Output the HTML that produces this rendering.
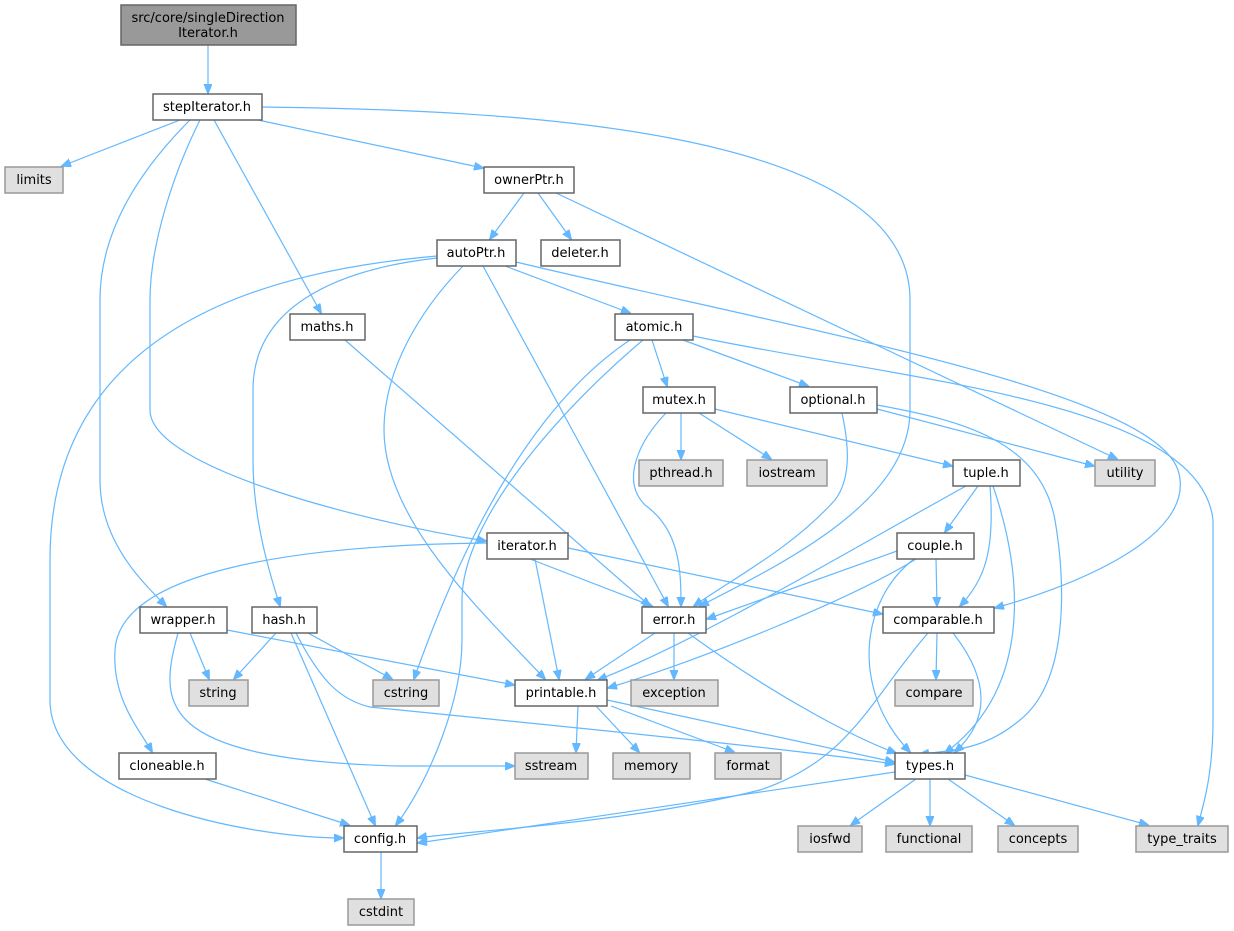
<!DOCTYPE html>
<html><head><meta charset="utf-8"><style>
html,body{margin:0;padding:0;background:#fff;}
svg{display:block;}
text{font-family:"DejaVu Sans","Liberation Sans",sans-serif;font-size:13px;fill:#000;text-anchor:middle;}
.e{fill:none;stroke:#63b8ff;stroke-width:1.2;marker-end:url(#a);}
.n{fill:#fff;stroke:#666;stroke-width:1.5;}
.g{fill:#e0e0e0;stroke:#999;stroke-width:1.5;}
</style></head><body>
<svg width="1234" height="931" viewBox="0 0 1234 931" xmlns="http://www.w3.org/2000/svg">
<defs><marker id="a" markerWidth="10" markerHeight="10" refX="9" refY="4" orient="auto" markerUnits="userSpaceOnUse"><path d="M0,0 L10,4 L0,8 Z" fill="#63b8ff" stroke="#63b8ff"/></marker></defs>
<g>
<path class="e" d="M208,45 L208,93"/>
<path class="e" d="M180,120 L62,166"/>
<path class="e" d="M258,120 L483,168"/>
<path class="e" d="M214,120 L321,313"/>
<path class="e" d="M190,120 C130,180 100,240 100,300 L100,480 C100,540 140,580 166,606"/>
<path class="e" d="M200,120 C170,180 150,250 150,300 L150,410 C150,470 380,525 486,541"/>
<path class="e" d="M262,107 C500,110 910,125 910,300 L910,410 C910,500 790,560 700,606"/>
<path class="e" d="M524,193 L490,239"/>
<path class="e" d="M538,193 L571,239"/>
<path class="e" d="M556,193 L1117,459"/>
<path class="e" d="M505,266 L630,313"/>
<path class="e" d="M437,256 C280,270 50,320 50,560 L50,700 C50,800 250,838 343,838"/>
<path class="e" d="M437,258 C330,270 253,310 253,390 L253,460 C253,520 270,575 280,606"/>
<path class="e" d="M463,266 C420,310 384,370 384,430 C384,520 480,610 545,679"/>
<path class="e" d="M483,266 L668,606"/>
<path class="e" d="M516,262 C800,330 1150,390 1178,470 C1200,540 1060,590 995,608"/>
<path class="e" d="M652,340 L667,386"/>
<path class="e" d="M683,340 L808,386"/>
<path class="e" d="M693,336 C900,380 1200,400 1213,520 L1213,720 C1213,770 1205,800 1198,825"/>
<path class="e" d="M630,340 C540,400 470,520 414,679"/>
<path class="e" d="M643,340 C560,410 462,520 462,600 L462,640 C462,700 430,780 396,825"/>
<path class="e" d="M681,413 L681,459"/>
<path class="e" d="M699,413 L771,459"/>
<path class="e" d="M715,409 L952,466"/>
<path class="e" d="M666,413 C640,440 620,480 645,505 C680,530 681,570 681,606"/>
<path class="e" d="M842,413 C850,450 850,480 835,500 C790,550 730,580 694,606"/>
<path class="e" d="M877,409 L1094,466"/>
<path class="e" d="M877,405 C960,420 1040,440 1055,520 C1065,580 1070,680 1020,720 C990,745 965,750 920,754"/>
<path class="e" d="M978,486 L945,532"/>
<path class="e" d="M966,486 C850,550 700,640 598,680"/>
<path class="e" d="M990,486 C995,550 985,580 960,606"/>
<path class="e" d="M993,486 C1025,580 1030,690 945,753"/>
<path class="e" d="M897,551 L707,619"/>
<path class="e" d="M916,559 C850,600 700,660 608,688"/>
<path class="e" d="M936,559 L937,606"/>
<path class="e" d="M914,559 C860,600 850,690 910,752"/>
<path class="e" d="M487,543 C300,545 120,570 115,650 C112,700 140,730 152,752"/>
<path class="e" d="M530,559 L652,606"/>
<path class="e" d="M535,559 L559,679"/>
<path class="e" d="M568,548 L882,614"/>
<path class="e" d="M345,340 L650,606"/>
<path class="e" d="M190,633 L209,679"/>
<path class="e" d="M227,630 L514,685"/>
<path class="e" d="M178,633 C160,700 150,760 400,766 L514,766"/>
<path class="e" d="M276,633 L234,679"/>
<path class="e" d="M308,633 L392,679"/>
<path class="e" d="M296,633 C320,680 340,700 370,707 C600,730 800,750 894,764"/>
<path class="e" d="M291,633 L375,825"/>
<path class="e" d="M674,633 L674,679"/>
<path class="e" d="M655,633 L586,679"/>
<path class="e" d="M688,633 C780,700 860,740 896,753"/>
<path class="e" d="M937,633 L936,679"/>
<path class="e" d="M953,633 C990,680 990,720 955,752"/>
<path class="e" d="M928,633 C870,700 850,760 760,790 C620,825 450,832 418,838"/>
<path class="e" d="M578,706 L576,752"/>
<path class="e" d="M596,706 L639,752"/>
<path class="e" d="M611,706 L734,752"/>
<path class="e" d="M607,700 L894,762"/>
<path class="e" d="M916,779 L851,825"/>
<path class="e" d="M930,779 L930,825"/>
<path class="e" d="M948,779 L1014,825"/>
<path class="e" d="M965,775 L1148,825"/>
<path class="e" d="M895,772 L418,843"/>
<path class="e" d="M205,779 L349,825"/>
<path class="e" d="M381,852 L381,898"/>
</g>
<g>
<rect x="121" y="5" width="175" height="40" fill="#999" stroke="#666" stroke-width="1.5"/>
<text x="208" y="22">src/core/singleDirection</text><text x="208" y="37">Iterator.h</text>
<rect class="n" x="153" y="94" width="109" height="26"/><text x="207" y="111">stepIterator.h</text>
<rect class="g" x="5" y="167" width="58" height="26"/><text x="34" y="184">limits</text>
<rect class="n" x="484" y="167" width="90" height="26"/><text x="529" y="184">ownerPtr.h</text>
<rect class="n" x="437" y="240" width="79" height="26"/><text x="476" y="257">autoPtr.h</text>
<rect class="n" x="541" y="240" width="79" height="26"/><text x="580" y="257">deleter.h</text>
<rect class="n" x="290" y="314" width="75" height="26"/><text x="327" y="331">maths.h</text>
<rect class="n" x="615" y="314" width="78" height="26"/><text x="654" y="331">atomic.h</text>
<rect class="n" x="643" y="387" width="72" height="26"/><text x="679" y="404">mutex.h</text>
<rect class="n" x="790" y="387" width="87" height="26"/><text x="833" y="404">optional.h</text>
<rect class="g" x="639" y="460" width="84" height="26"/><text x="681" y="477">pthread.h</text>
<rect class="g" x="747" y="460" width="80" height="26"/><text x="787" y="477">iostream</text>
<rect class="n" x="953" y="460" width="67" height="26"/><text x="986" y="477">tuple.h</text>
<rect class="g" x="1095" y="460" width="60" height="26"/><text x="1125" y="477">utility</text>
<rect class="n" x="487" y="533" width="81" height="26"/><text x="527" y="550">iterator.h</text>
<rect class="n" x="897" y="533" width="77" height="26"/><text x="935" y="550">couple.h</text>
<rect class="n" x="140" y="607" width="87" height="26"/><text x="183" y="624">wrapper.h</text>
<rect class="n" x="252" y="607" width="65" height="26"/><text x="284" y="624">hash.h</text>
<rect class="n" x="642" y="607" width="64" height="26"/><text x="674" y="624">error.h</text>
<rect class="n" x="883" y="607" width="111" height="26"/><text x="938" y="624">comparable.h</text>
<rect class="g" x="189" y="680" width="59" height="26"/><text x="218" y="697">string</text>
<rect class="g" x="373" y="680" width="66" height="26"/><text x="406" y="697">cstring</text>
<rect class="n" x="515" y="680" width="92" height="26"/><text x="561" y="697">printable.h</text>
<rect class="g" x="631" y="680" width="87" height="26"/><text x="674" y="697">exception</text>
<rect class="g" x="895" y="680" width="78" height="26"/><text x="934" y="697">compare</text>
<rect class="n" x="119" y="753" width="97" height="26"/><text x="167" y="770">cloneable.h</text>
<rect class="g" x="515" y="753" width="73" height="26"/><text x="551" y="770">sstream</text>
<rect class="g" x="613" y="753" width="77" height="26"/><text x="651" y="770">memory</text>
<rect class="g" x="715" y="753" width="66" height="26"/><text x="748" y="770">format</text>
<rect class="n" x="895" y="753" width="70" height="26"/><text x="930" y="770">types.h</text>
<rect class="n" x="344" y="826" width="73" height="26"/><text x="380" y="843">config.h</text>
<rect class="g" x="798" y="826" width="64" height="26"/><text x="830" y="843">iosfwd</text>
<rect class="g" x="886" y="826" width="86" height="26"/><text x="929" y="843">functional</text>
<rect class="g" x="998" y="826" width="80" height="26"/><text x="1038" y="843">concepts</text>
<rect class="g" x="1136" y="826" width="92" height="26"/><text x="1182" y="843">type_traits</text>
<rect class="g" x="348" y="899" width="66" height="26"/><text x="381" y="916">cstdint</text>
</g>
</svg>
</body></html>
